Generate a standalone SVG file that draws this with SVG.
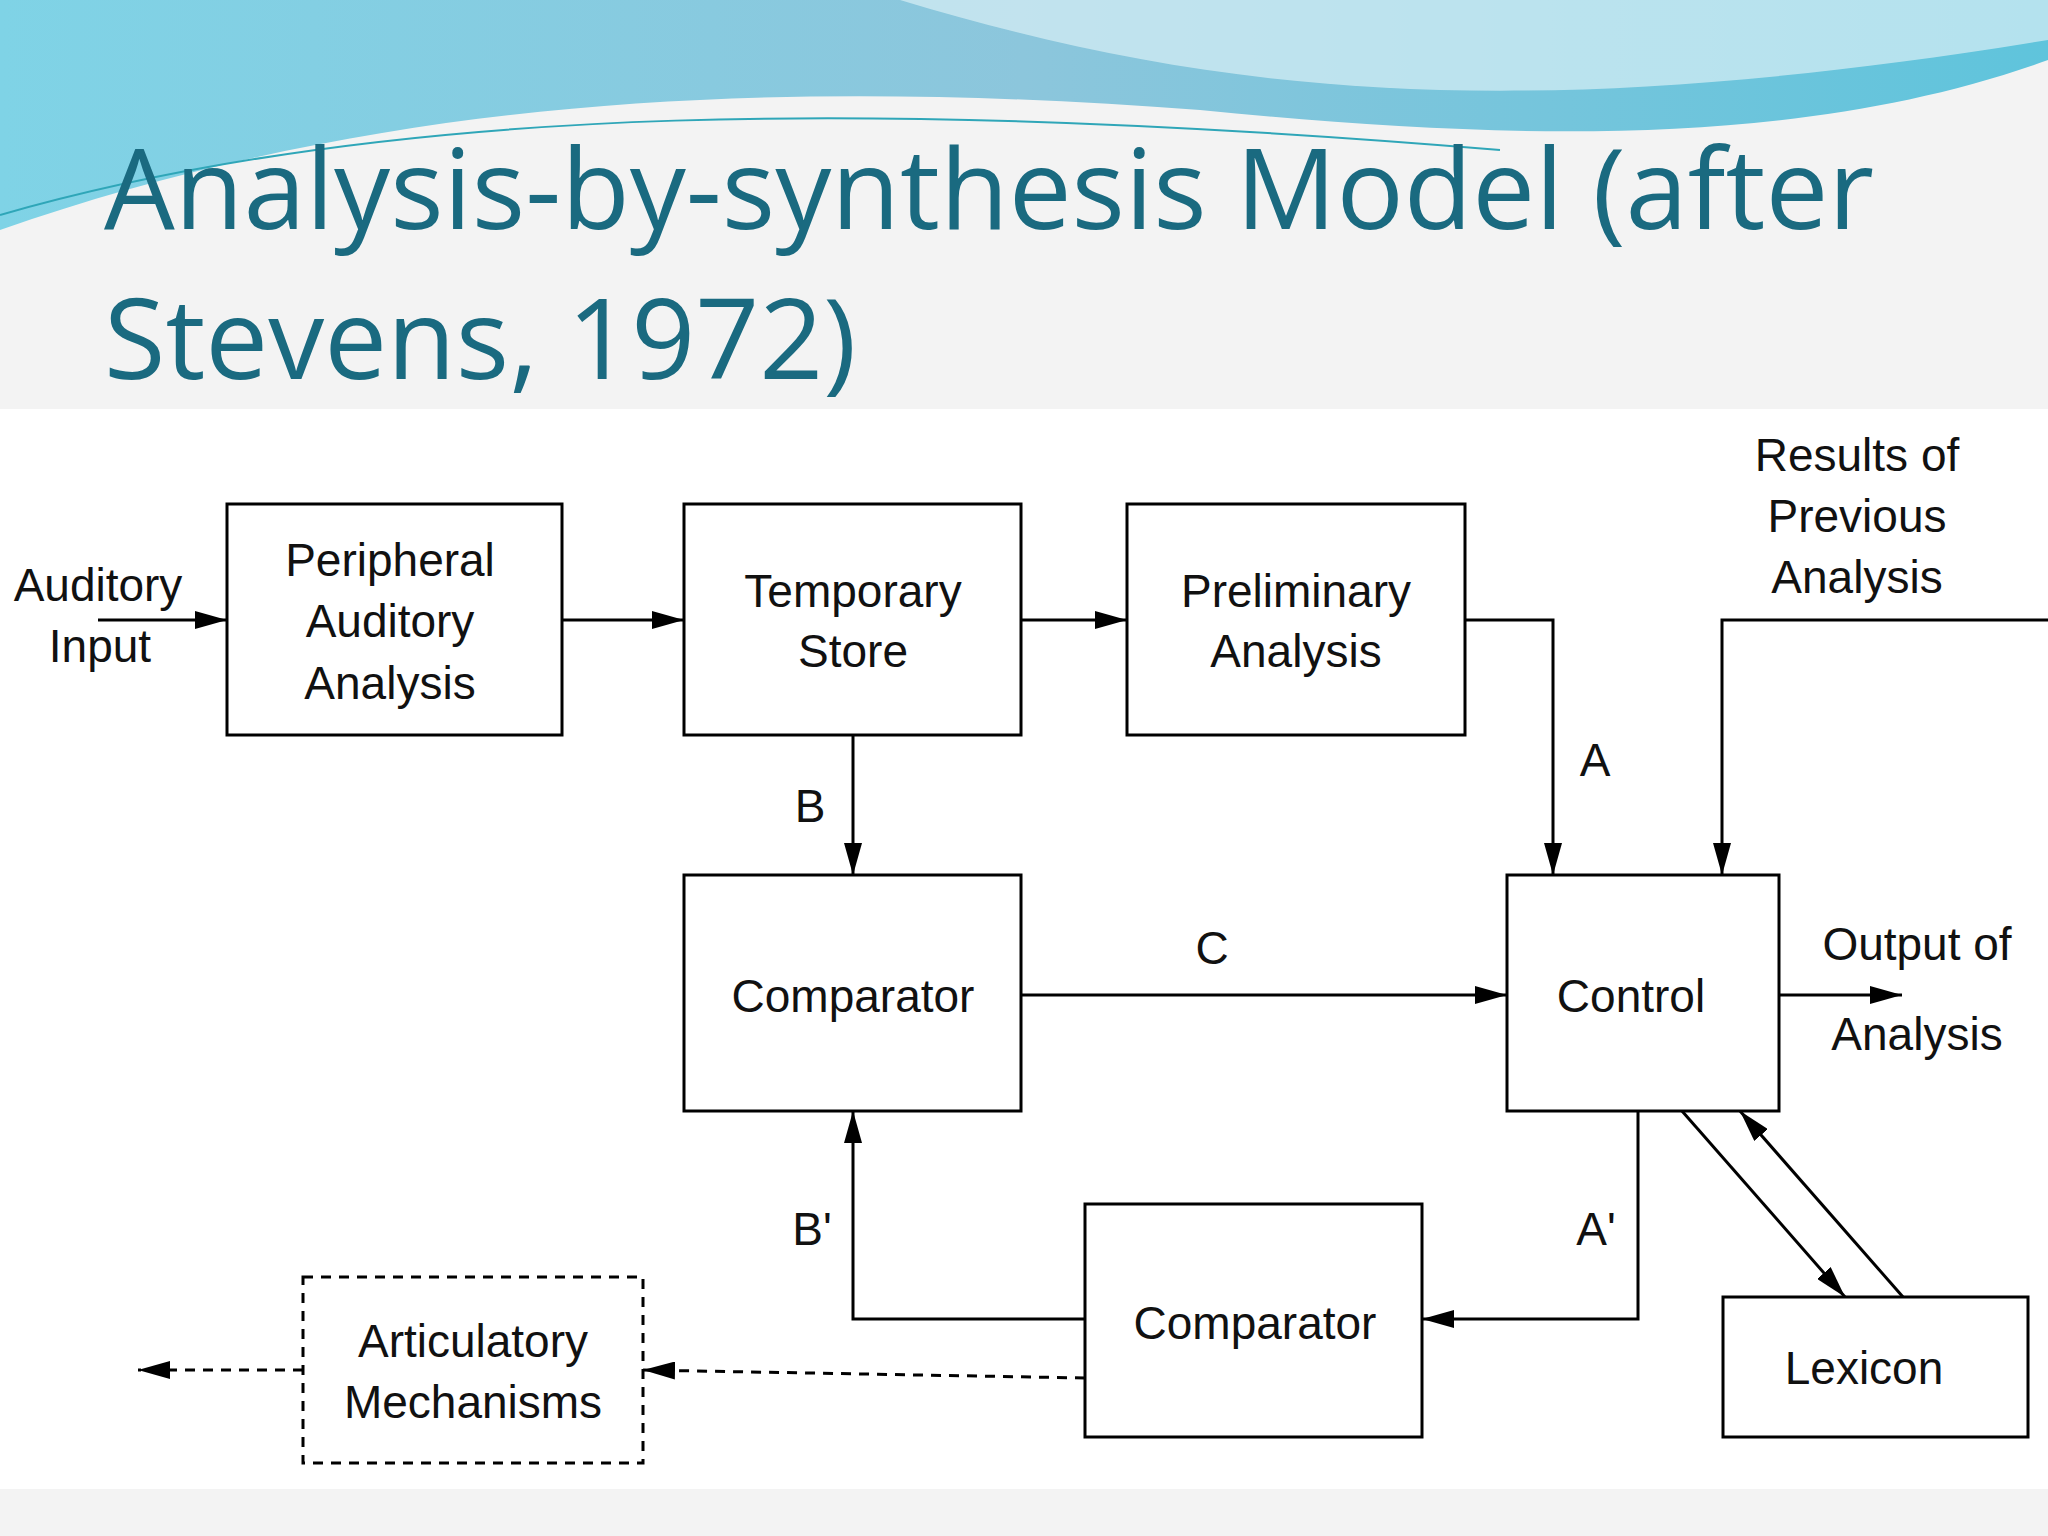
<svg xmlns="http://www.w3.org/2000/svg" width="2048" height="1536" viewBox="0 0 2048 1536">
<defs>
<linearGradient id="sky" x1="0" y1="0" x2="1" y2="0"><stop offset="0" stop-color="#7fd3e6"/><stop offset="0.5" stop-color="#8cc6dc"/><stop offset="1" stop-color="#5fc4dc"/></linearGradient>
<marker id="ah" viewBox="0 0 32 18" refX="32" refY="9" markerWidth="32" markerHeight="18" markerUnits="userSpaceOnUse" orient="auto"><path d="M0,0 L32,9 L0,18 z" fill="#000"/></marker>
<style>
.box{fill:#fff;stroke:#000;stroke-width:3}
.t{font-family:"Liberation Sans",Arial,sans-serif;font-size:46px;fill:#111;text-anchor:middle}
.ln{fill:none;stroke:#000;stroke-width:3;marker-end:url(#ah)}
.dash{fill:none;stroke:#000;stroke-width:3;stroke-dasharray:10,8}
</style>
</defs>
<rect width="2048" height="1536" fill="#f3f3f3"/>
<path d="M0,0 H2048 V60 C1800,150 1500,140 1200,110 C800,80 400,90 0,230 Z" fill="url(#sky)"/>
<path d="M900,0 C1200,90 1500,130 2048,40 V0 Z" fill="#d8f0f5" opacity="0.7"/>
<path d="M0,215 C400,100 900,100 1500,150" fill="none" stroke="#2fa6b8" stroke-width="2"/>
<rect x="0" y="409" width="2048" height="1080" fill="#fff"/>
<text x="104" y="229" font-family="'Open Sans','Noto Sans',sans-serif" font-size="112" fill="#1a6a80">Analysis-by-synthesis Model (after</text>
<text x="104" y="379" font-family="'Open Sans','Noto Sans',sans-serif" font-size="112" fill="#1a6a80">Stevens, 1972)</text>
<g id="connectors">
<path class="ln" d="M98,620 H227"/>
<path class="ln" d="M562,620 H684"/>
<path class="ln" d="M1021,620 H1127"/>
<path class="ln" d="M1465,620 H1553 V875"/>
<path class="ln" d="M2048,620 H1722 V875"/>
<path class="ln" d="M853,735 V875"/>
<path class="ln" d="M1021,995 H1507"/>
<path class="ln" d="M1775,995 H1902"/>
<path class="ln" d="M1638,1111 V1319 H1422"/>
<path class="ln" d="M1085,1319 H853 V1111"/>
<path class="ln" d="M1682,1111 L1845,1297"/>
<path class="ln" d="M1903,1297 L1740,1111"/>
<path class="dash" d="M1085,1378 L643,1370" marker-end="url(#ah)"/>
<path class="dash" d="M303,1370 H138" marker-end="url(#ah)"/>
</g>
<g id="labels">
<text class="t" x="98" y="601">Auditory</text><text class="t" x="100" y="662">Input</text>
<text class="t" x="1857" y="471">Results of</text><text class="t" x="1857" y="532">Previous</text><text class="t" x="1857" y="593">Analysis</text>
<text class="t" x="1595" y="776">A</text>
<text class="t" x="810" y="822">B</text>
<text class="t" x="1212" y="964">C</text>
<text class="t" x="1917" y="960">Output of</text><text class="t" x="1917" y="1050">Analysis</text>
<text class="t" x="1596" y="1245">A'</text>
<text class="t" x="812" y="1245">B'</text>
</g>
<g id="peripheral"><rect class="box" x="227" y="504" width="335" height="231"/><text class="t" x="390" y="576">Peripheral</text><text class="t" x="390" y="637">Auditory</text><text class="t" x="390" y="699">Analysis</text></g>
<g id="temporary"><rect class="box" x="684" y="504" width="337" height="231"/><text class="t" x="853" y="607">Temporary</text><text class="t" x="853" y="667">Store</text></g>
<g id="preliminary"><rect class="box" x="1127" y="504" width="338" height="231"/><text class="t" x="1296" y="607">Preliminary</text><text class="t" x="1296" y="667">Analysis</text></g>
<g id="comparator1"><rect class="box" x="684" y="875" width="337" height="236"/><text class="t" x="853" y="1012">Comparator</text></g>
<g id="control"><rect class="box" x="1507" y="875" width="272" height="236"/><text class="t" x="1631" y="1012">Control</text></g>
<g id="comparator2"><rect class="box" x="1085" y="1204" width="337" height="233"/><text class="t" x="1255" y="1339">Comparator</text></g>
<g id="lexicon"><rect class="box" x="1723" y="1297" width="305" height="140"/><text class="t" x="1864" y="1384">Lexicon</text></g>
<g id="articulatory"><rect class="box" x="303" y="1277" width="340" height="186" stroke-dasharray="10,8"/><text class="t" x="473" y="1357">Articulatory</text><text class="t" x="473" y="1418">Mechanisms</text></g>
</svg>
